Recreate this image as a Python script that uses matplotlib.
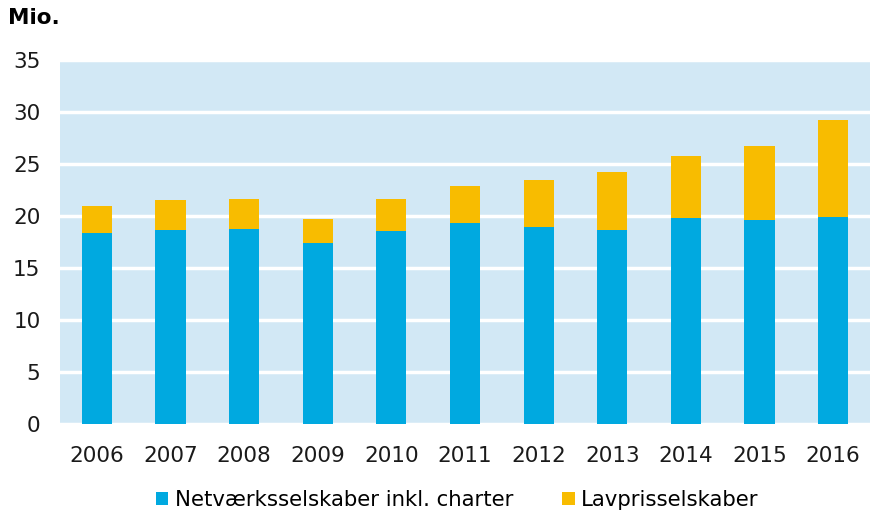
import matplotlib
matplotlib.use("Agg")
import matplotlib.pyplot as plt
import numpy as np

years = ["2006", "2007", "2008", "2009", "2010", "2011", "2012", "2013", "2014", "2015", "2016"]
netvaerk = [18.3, 18.6, 18.7, 17.4, 18.5, 19.3, 18.9, 18.65, 19.8, 19.6, 19.9]
lavpris = [2.6, 2.85, 2.9, 2.3, 3.05, 3.5, 4.5, 5.5, 5.9, 7.1, 9.25]
yticks = [0, 5, 10, 15, 20, 25, 30, 35]
series_names = ["Netværksselskaber inkl. charter", "Lavprisselskaber"]

plt.rcParams['font.family'] = ['DejaVu Sans']

fig = plt.figure(figsize=(8.81, 5.16), dpi=100)
ax = fig.add_axes([60/881, 1 - 423.5/516, 810/881, (423.5 - 59.5)/516])

x = np.arange(len(years))
blue = "#00A9E0"
orange = "#F8BC00"
b1 = ax.bar(x, netvaerk, width=0.41, color=blue, label=series_names[0], zorder=3)
b2 = ax.bar(x, lavpris, bottom=netvaerk, width=0.41, color=orange, label=series_names[1], zorder=3)

ax.set_facecolor("#D2E8F5")
ax.set_xlim(-0.5, len(years) - 0.5)
ax.set_ylim(0, 35)
ax.set_yticks(yticks)
ax.set_yticklabels([str(v) for v in yticks])
ax.set_xticks(x)
ax.set_xticklabels(years)
ax.yaxis.grid(True, color="white", linewidth=2.5, zorder=1)
ax.set_axisbelow(True)
for s in ax.spines.values():
    s.set_visible(False)
ax.tick_params(axis="both", length=0, labelsize=15.5, colors="#1a1a1a")
ax.tick_params(axis="x", pad=16)
ax.tick_params(axis="y", pad=14)

fig.text(8/881, 1 - 18/516, "Mio.", fontsize=15.5, fontweight="bold", va="center", ha="left", color="black")

fig.legend(handles=[b1, b2], labels=series_names, loc="center", bbox_to_anchor=(0.519, 1 - 500/516),
           ncol=2, frameon=False, fontsize=15.3, handlelength=0.6, handleheight=0.6,
           handletextpad=0.3, columnspacing=2.3)

fig.savefig("out.png", dpi=100)
